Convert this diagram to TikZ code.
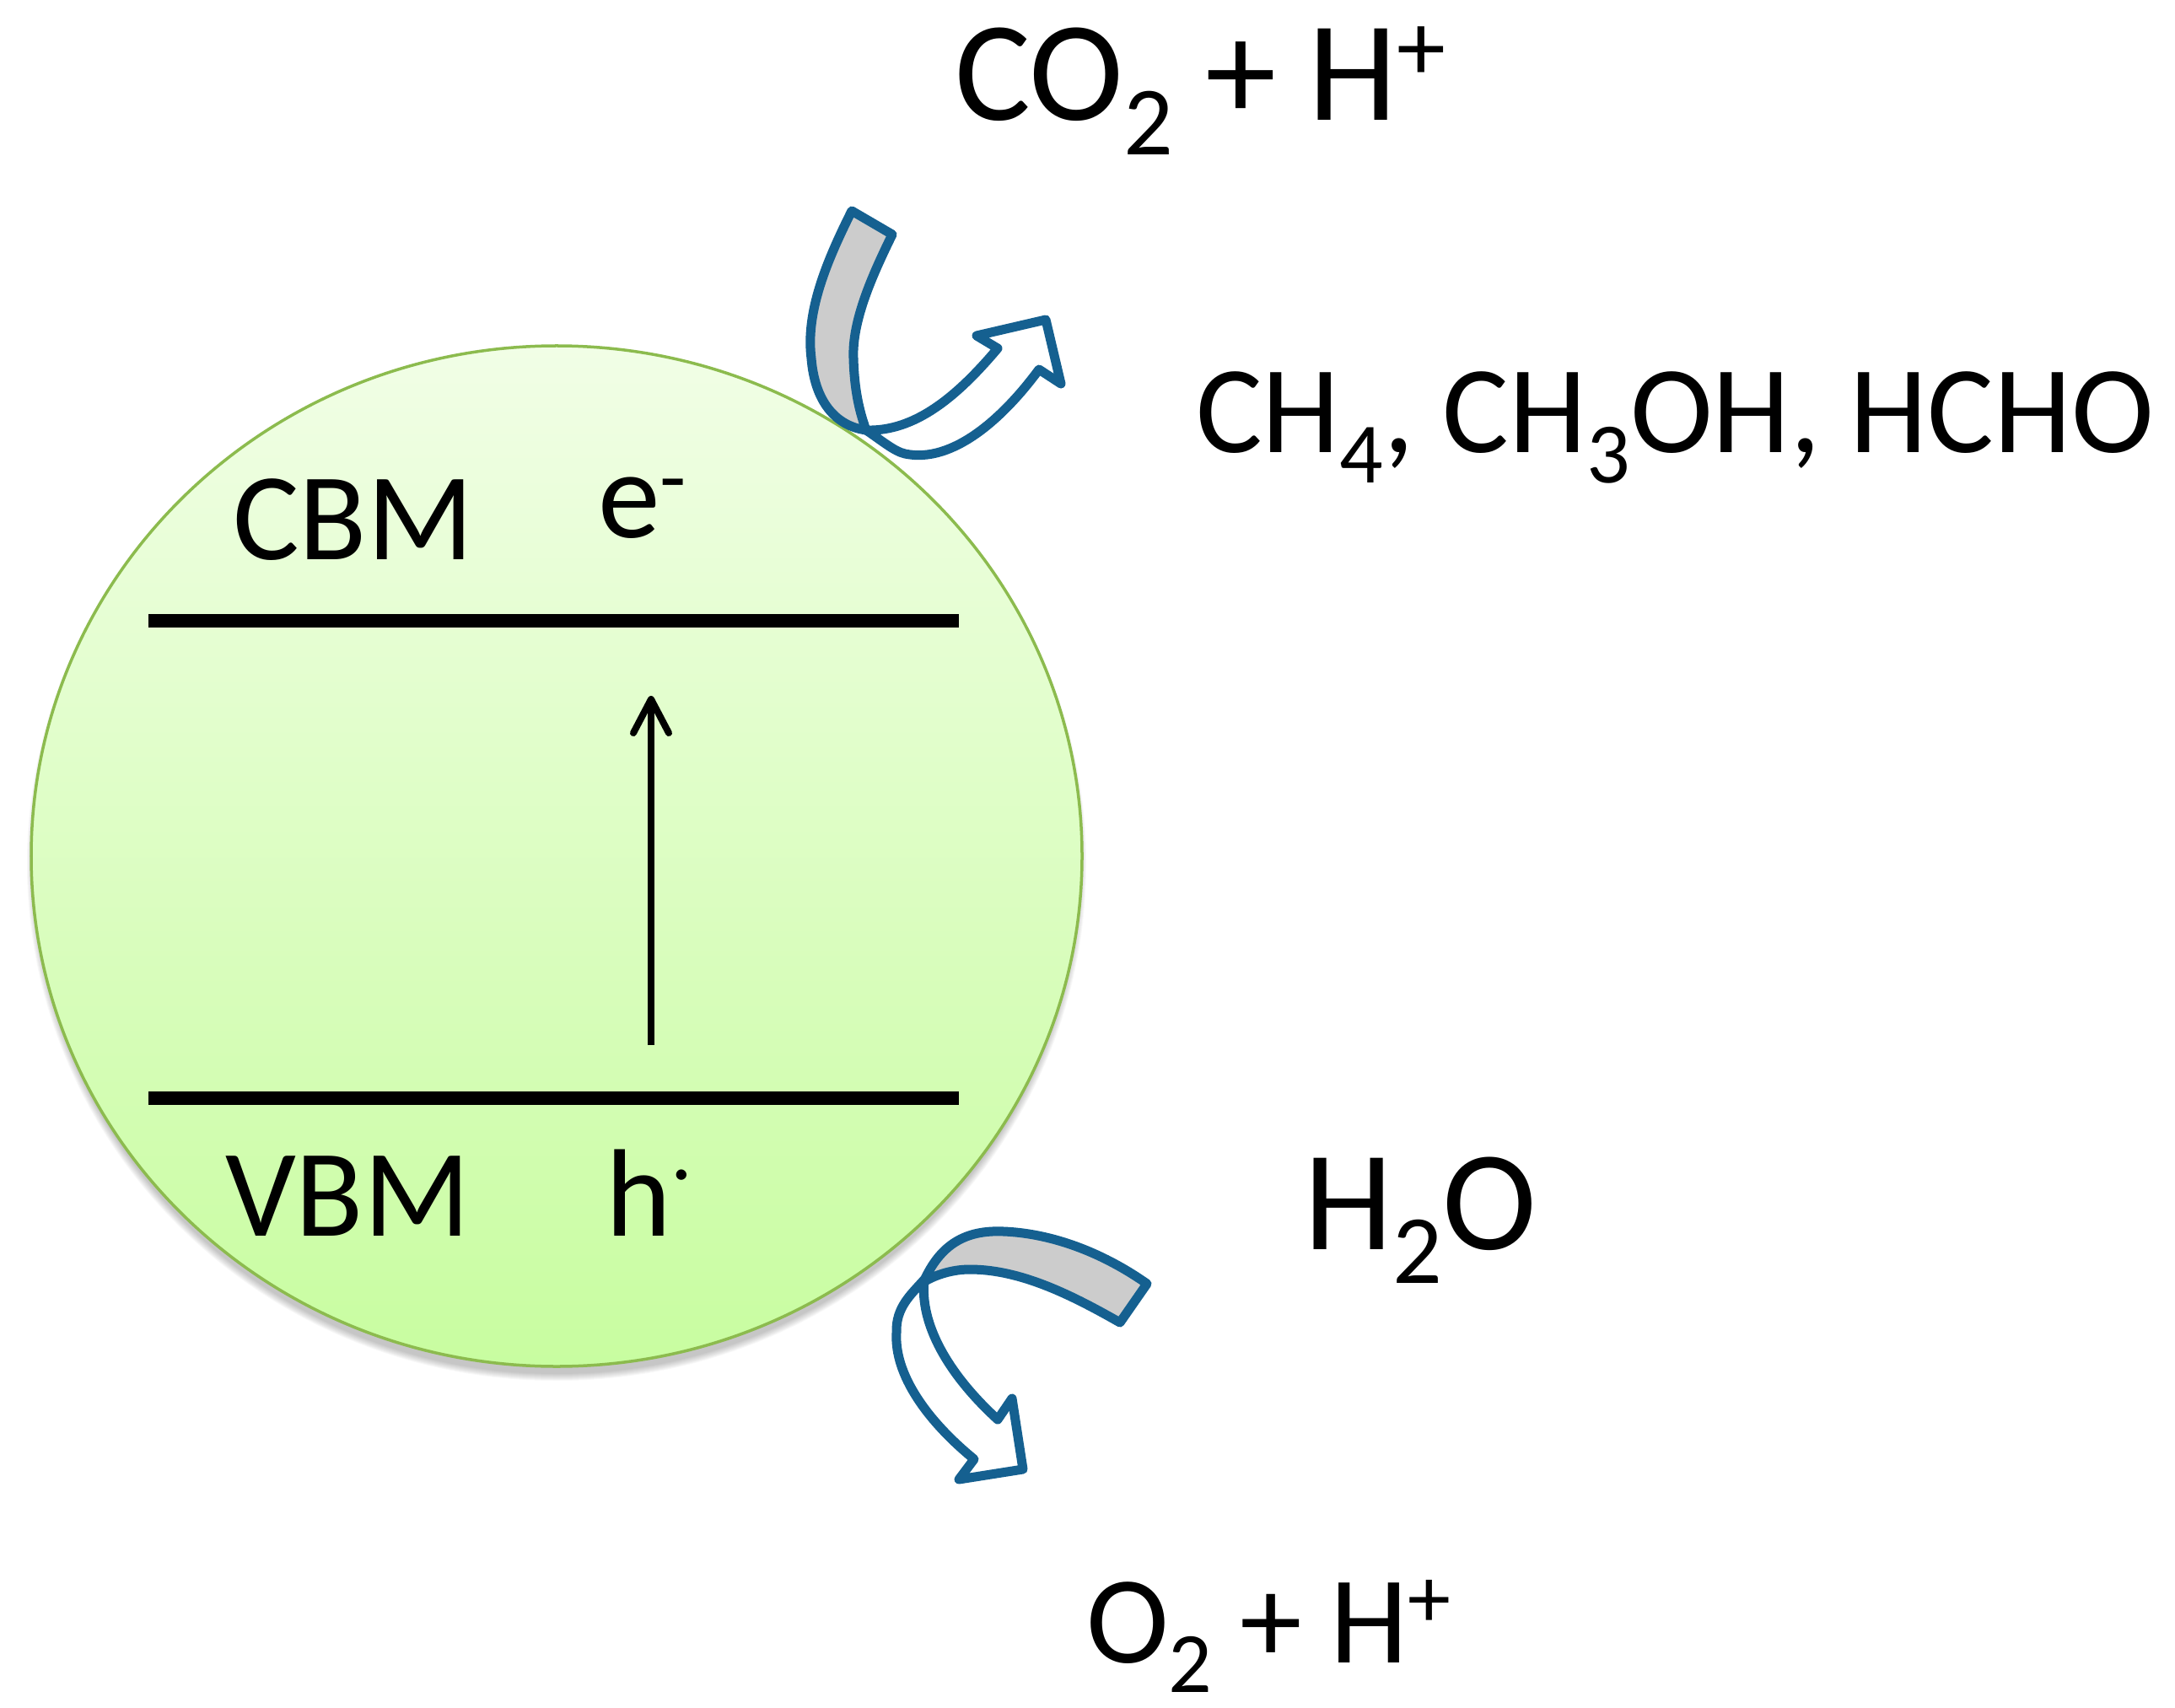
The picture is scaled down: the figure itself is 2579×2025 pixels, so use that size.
\documentclass[tikz,border=0pt]{standalone}
\usepackage{fontspec}
\setmainfont{Carlito}
\usetikzlibrary{arrows.meta}
\definecolor{bandblue}{HTML}{156090}
\definecolor{bandgrey}{HTML}{CCCCCC}
\definecolor{ballrim}{HTML}{8CBB4E}
\definecolor{balltop}{HTML}{F1FEE6}
\definecolor{ballbot}{HTML}{C8FDA0}
\newcommand{\sbs}[2][29]{\raisebox{-0.24em}{\fontsize{#1}{#1}\selectfont #2}}
\newcommand{\sps}[3][29]{\raisebox{#3}{\fontsize{#1}{#1}\selectfont #2}}
\begin{document}
\begin{tikzpicture}[x=0.01cm,y=-0.01cm,
  lbl/.style={anchor=base west,inner sep=0pt,outer sep=0pt,font=\fontsize{42}{50}\selectfont,text=black},
  lblbig/.style={lbl,font=\fontsize{48}{56}\selectfont},
  level/.style={line width=0.16cm,black},
  band/.style={draw=bandblue,line width=0.11cm,line join=round,fill=bandgrey},
  hollow/.style={draw=bandblue,line width=0.11cm,line join=round,fill=white}]
\useasboundingbox (0,0) rectangle (2579,2025);
% shadow
\foreach \k in {0,1,...,8}{
  \fill[black,opacity=0.028] (660,1024) ellipse ({620+\k} and {605+\k});
}
\shade[top color=balltop,bottom color=ballbot,draw=ballrim,line width=0.035cm] (660,1015) ellipse (623 and 605);
% levels
\coordinate (cbmL) at (176,736); \coordinate (cbmR) at (1137,736);
\coordinate (vbmL) at (176,1302); \coordinate (vbmR) at (1137,1302);
\coordinate (excS) at (772,1239); \coordinate (excE) at (772,825);
\draw[level] (cbmL) -- (cbmR);
\draw[level] (vbmL) -- (vbmR);
\draw[line width=0.08cm,black,-{Straight Barb[round,length=0.40cm,width=0.42cm,line width=0.08cm]}] (excS) -- (excE);
% top band
\draw[hollow] (1027,510) .. controls (1085,512) and (1135,470) .. (1183,413)
  -- (1158,398) -- (1240,379) -- (1258,455) -- (1232,438)
  .. controls (1190,495) and (1130,550) .. (1073,538)
  .. controls (1060,535) and (1045,522) .. (1027,510) -- cycle;
\draw[band] (1010,250) -- (1058,278)
  .. controls (1035,325) and (1010,380) .. (1012,425)
  .. controls (1013,460) and (1018,485) .. (1027,510)
  .. controls (990,505) and (966,475) .. (962,425)
  .. controls (955,370) and (980,310) .. (1010,250) -- cycle;
% bottom band
\draw[hollow] (1096,1517) .. controls (1090,1570) and (1125,1630) .. (1183,1683)
  -- (1200,1658) -- (1213,1742) -- (1137,1754) -- (1155,1730)
  .. controls (1100,1685) and (1060,1630) .. (1063,1580)
  .. controls (1062,1550) and (1080,1535) .. (1096,1517) -- cycle;
\draw[band] (1360,1522) -- (1328,1568)
  .. controls (1270,1535) and (1210,1505) .. (1150,1505)
  .. controls (1130,1505) and (1110,1511) .. (1095,1520)
  .. controls (1115,1475) and (1145,1458) .. (1190,1460)
  .. controls (1240,1462) and (1300,1480) .. (1360,1522) -- cycle;
% text
\node[lblbig] (co2) at (1132,143) {CO\sbs[33]{2} + H\sps[33]{+}{13.6pt}};
\node[lbl] (prod) at (1418,537) {CH\sbs{4}, CH\sbs{3}OH, HCHO};
\node[lbl] (cbm) at (276,664) {CBM};
\node[lbl] (el) at (709,637) {e\sps{-}{10.5pt}};
\node[lbl] (vbm) at (267,1465) {VBM};
\node[lbl] (ho) at (718,1465) {h\sps{.}{19pt}};
\node[lblbig] (h2o) at (1546,1481) {H\sbs[33]{2}O};
\node[lbl] (o2) at (1288,1971) {O\sbs{2} + H\sps{+}{11.7pt}};
\end{tikzpicture}
\end{document}
